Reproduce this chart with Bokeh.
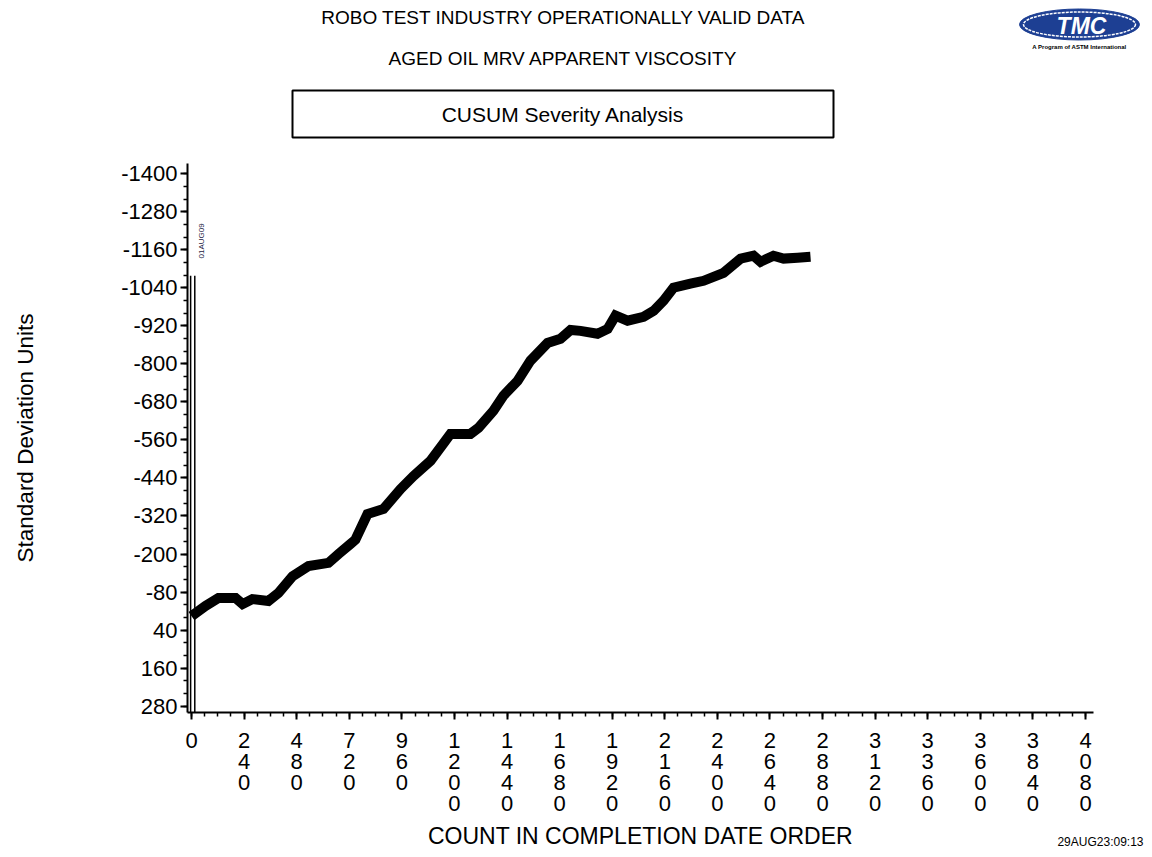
import math
from bokeh.plotting import figure
from bokeh.models import Range1d, Label, FixedTicker
from bokeh.layouts import column
from bokeh.embed import file_html
from bokeh.resources import INLINE

# ---- data ----
count = [0, 64, 123, 201, 233, 278, 351, 397, 461, 534, 625, 671, 726, 748,
         803, 876, 954, 1013, 1091, 1159, 1182, 1273, 1310, 1378, 1424, 1488,
         1547, 1625, 1684, 1730, 1775, 1853, 1899, 1935, 1990, 2063, 2109,
         2154, 2200, 2277, 2337, 2428, 2506, 2565, 2597, 2656, 2702, 2766, 2825]
cusum = [-4, -36, -61, -61, -42, -58, -52, -77, -130, -162, -172, -200, -232, -245,
         -326, -342, -405, -446, -494, -557, -579, -579, -598, -652, -700, -746,
         -810, -866, -879, -907, -904, -895, -910, -952, -936, -948, -967,
         -999, -1040, -1053, -1062, -1087, -1132, -1141, -1122, -1141, -1132, -1135, -1138]

marker_x = [-4, 15]
marker_top = [-1078, -1078]
marker_bottom = [300, 300]
marker_text = "01AUG09"

x_ticks = list(range(0, 4081, 240))
y_ticks = list(range(-1400, 281, 120))

title1 = "ROBO TEST INDUSTRY OPERATIONALLY VALID DATA"
title2 = "AGED OIL MRV APPARENT VISCOSITY"
boxed_title = "CUSUM Severity Analysis"
x_label = "COUNT IN COMPLETION DATE ORDER"
y_label = "Standard Deviation Units"
stamp = "29AUG23:09:13"
logo_text = "TMC"
logo_sub = "A Program of ASTM International"

FONT = "Liberation Sans"
W = 1144
HEAD_H, MAIN_H, FOOT_H = 150, 670, 29   # page rows 0-150, 150-820, 820-849
FL = 187                                # frame left edge (shared by all rows)

# x scale of the main plot: count 0 at page x 191, 4080 at page x 1085
PX_PER = (1085 - 191) / 4080.0
X0 = (FL - 191) / PX_PER
X1 = (W - 191) / PX_PER
AXIS_END = (1093 - 191) / PX_PER


def blank_panel(height, y_top):
    """A figure whose frame maps page-pixel coordinates one to one."""
    f = figure(width=W, height=height, output_backend="svg",
               toolbar_location=None, x_axis_type=None, y_axis_type=None,
               x_range=Range1d(FL, W), y_range=Range1d(y_top + height, y_top),
               min_border_left=FL, min_border_right=0,
               min_border_top=0, min_border_bottom=0)
    f.outline_line_color = None
    f.xgrid.visible = False
    f.ygrid.visible = False
    f.title.visible = False
    return f


def text(f, x, y, t, size, **kw):
    opts = dict(x=x, y=y, text=t, text_font=FONT, text_font_size=size,
                text_color="black", text_align="center",
                text_baseline="middle")
    opts.update(kw)
    f.add_layout(Label(**opts))


# ---------------- header ----------------
head = blank_panel(HEAD_H, 0)
text(head, 563, 17, title1, "19px")
text(head, 563, 58, title2, "19px")
head.rect(x=[562.5], y=[113.5], width=[541], height=[47],
          fill_color="white", line_color="black", line_width=2)
text(head, 562.5, 114, boxed_title, "21px")
# logo
head.ellipse(x=[1079], y=[24], width=[120], height=[31],
             fill_color="#1d3f93", line_color="#1d3f93")
head.ellipse(x=[1079], y=[24], width=[112], height=[25],
             fill_color=None, line_color="white", line_width=1.5,
             line_dash="3 1")
text(head, 1081, 25, logo_text, "23px", text_color="white",
     text_font_style="bold italic")
text(head, 1079, 46, logo_sub, "6px", text_font_style="bold")

# ---------------- main plot ----------------
FT, FB = 163, 712
p = figure(width=W, height=MAIN_H, output_backend="svg",
           toolbar_location=None,
           x_range=Range1d(X0, X1), y_range=Range1d(300, -1432),
           min_border_left=FL, min_border_right=0,
           min_border_top=FT - HEAD_H,
           min_border_bottom=HEAD_H + MAIN_H - FB)
p.title.visible = False
p.outline_line_color = None
p.xgrid.visible = False
p.ygrid.visible = False

for ax in (p.xaxis[0], p.yaxis[0]):
    ax.axis_line_width = 2
    ax.axis_line_color = "black"
    ax.major_tick_line_width = 2
    ax.minor_tick_line_width = 1.5
    ax.major_tick_in = 0
    ax.minor_tick_in = 0
    ax.major_tick_out = 7
    ax.minor_tick_out = 4
    ax.major_label_text_font = FONT
    ax.major_label_text_font_size = "22px"
    ax.major_label_text_color = "black"

xa = p.xaxis[0]
xa.bounds = (X0, AXIS_END)
xa.ticker = FixedTicker(ticks=x_ticks, minor_ticks=list(range(0, 4081, 60)))
xa.major_label_overrides = {t: "\n".join(str(t)) for t in x_ticks}
xa.major_label_standoff = 8
xa.major_label_text_line_height = 0.84

ya = p.yaxis[0]
ya.ticker = FixedTicker(ticks=y_ticks, minor_ticks=list(range(-1400, 281, 40)))
ya.major_label_overrides = {t: str(t) for t in y_ticks}
ya.major_label_standoff = 3
ya.axis_label = y_label
ya.axis_label_text_font = FONT
ya.axis_label_text_font_size = "22.5px"
ya.axis_label_text_font_style = "normal"
ya.axis_label_text_color = "black"
ya.axis_label_standoff = 80

# vertical marker lines and their label
p.segment(x0=marker_x, y0=marker_top, x1=marker_x, y1=marker_bottom,
          line_color="black", line_width=1.5)
p.add_layout(Label(x=46, y=-1188, text=marker_text, angle=math.pi / 2,
                   text_font=FONT, text_font_size="8px", text_color="#222244",
                   text_align="center", text_baseline="middle"))

# CUSUM trace
p.line(count, cusum, line_color="black", line_width=10, line_join="miter")

# ---------------- footer ----------------
foot = blank_panel(FOOT_H, HEAD_H + MAIN_H)
text(foot, 640, 835, x_label, "23px")
text(foot, 1143, 848, stamp, "12px", text_align="right",
     text_baseline="bottom")

layout = column(head, p, foot, spacing=0)
open("out.html", "w").write(file_html(layout, INLINE))
